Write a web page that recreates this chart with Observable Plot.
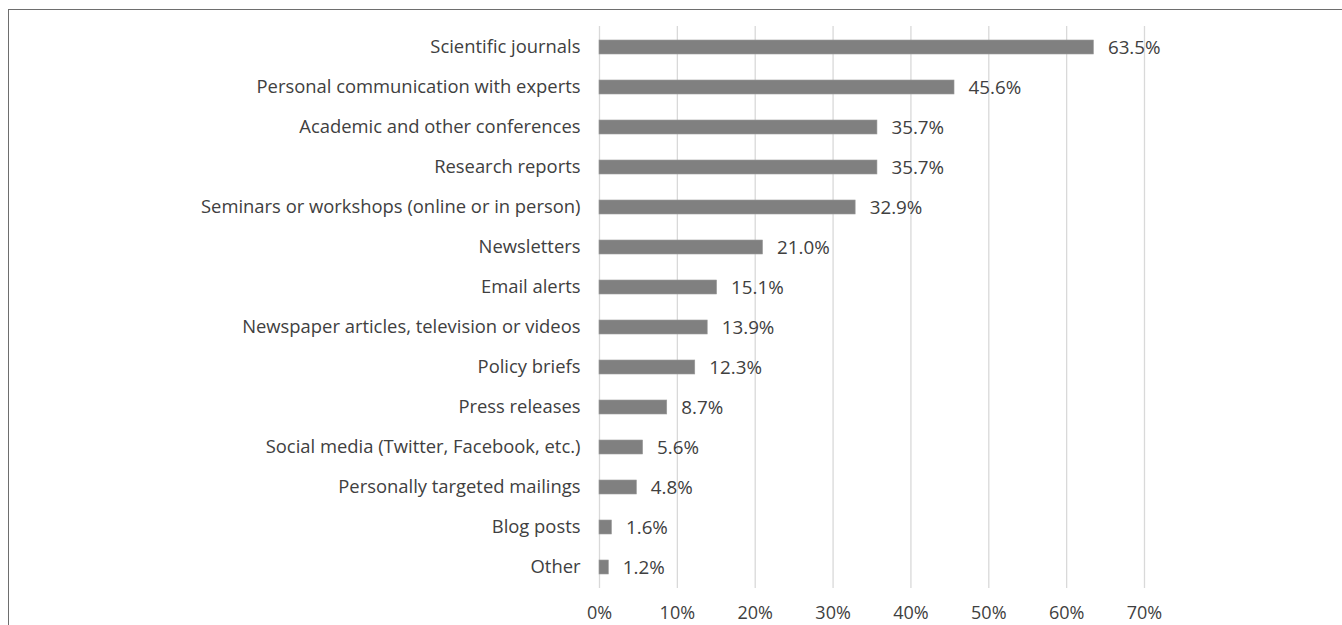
<!DOCTYPE html>
<html>
<head>
<meta charset="utf-8">
<script src="https://cdn.jsdelivr.net/npm/d3@7"></script>
<script src="https://cdn.jsdelivr.net/npm/@observablehq/plot@0.6"></script>
<style>
  html, body { margin: 0; padding: 0; background: #fff; }
  #wrap { position: relative; width: 1342px; height: 625px; overflow: hidden; }
  #frame { position: absolute; left: 8px; top: 9px; width: 1400px; height: 700px;
           border-left: 1.5px solid #6e6e6e; border-top: 1.5px solid #6e6e6e; pointer-events: none; }
</style>
</head>
<body>
<div id="wrap"><div id="frame"></div></div>
<script>
const categories = [
  "Scientific journals",
  "Personal communication with experts",
  "Academic and other conferences",
  "Research reports",
  "Seminars or workshops (online or in person)",
  "Newsletters",
  "Email alerts",
  "Newspaper articles, television or videos",
  "Policy briefs",
  "Press releases",
  "Social media (Twitter, Facebook, etc.)",
  "Personally targeted mailings",
  "Blog posts",
  "Other"
];
const values = [63.5, 45.6, 35.7, 35.7, 32.9, 21.0, 15.1, 13.9, 12.3, 8.7, 5.6, 4.8, 1.6, 1.2];
const xTicks = [0, 10, 20, 30, 40, 50, 60, 70];

const data = categories.map((c, i) => ({category: c, value: values[i]}));
const font = "'Open Sans', sans-serif";

const chart = Plot.plot({
  width: 1342,
  height: 625,
  marginTop: 26,
  marginBottom: 37,
  marginLeft: 599,
  marginRight: 198,
  style: {fontFamily: font, fontSize: "18px", color: "#404040", background: "transparent"},
  x: {domain: [0, 70], ticks: xTicks, tickFormat: d => d + "%", label: null},
  y: {domain: categories, paddingInner: 0.65, paddingOuter: 0.325, label: null},
  marks: [
    Plot.gridX(xTicks, {stroke: "#d9d9d9", strokeOpacity: 1, strokeWidth: 1.3}),
    Plot.axisX({ticks: xTicks, tickFormat: d => d + "%", tickSize: 0, tickPadding: 18, fontSize: 18, fill: "#404040", label: null}),
    Plot.axisY({tickSize: 0, tickPadding: 19, fontSize: 18.4, fill: "#404040", label: null}),
    Plot.barX(data, {x: "value", y: "category", fill: "#808080", stroke: "#9a9a9a", strokeWidth: 0.6}),
    Plot.text(data, {x: "value", y: "category", text: d => d.value.toFixed(1) + "%", textAnchor: "start", dx: 14, fontSize: 18.8, fill: "#404040"})
  ]
});
document.getElementById("wrap").prepend(chart);
chart.style.position = "absolute";
chart.style.left = "0";
chart.style.top = "0";
</script>
</body>
</html>
